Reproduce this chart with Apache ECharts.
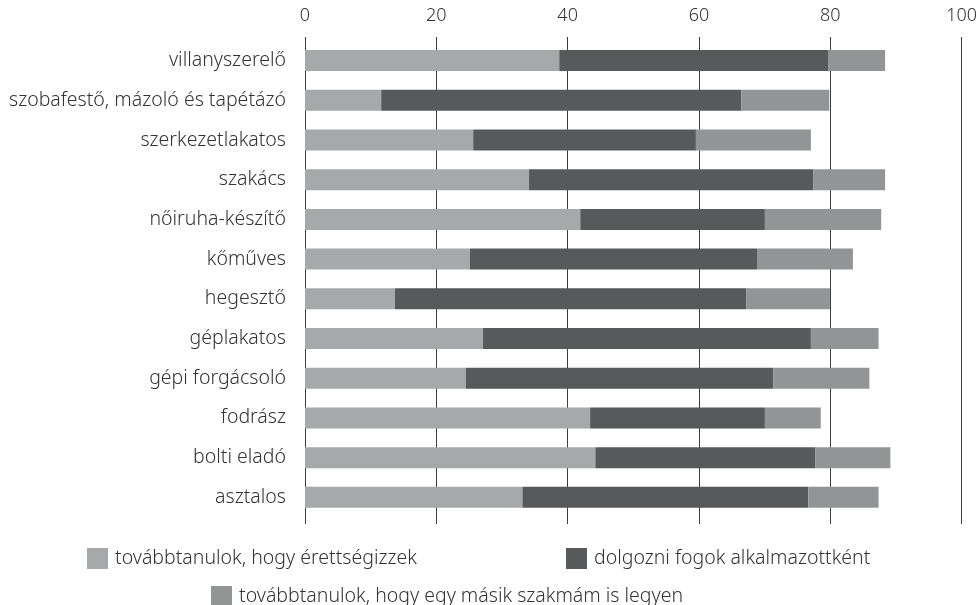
<!DOCTYPE html>
<html>
<head>
<meta charset="utf-8">
<script src="https://cdn.jsdelivr.net/npm/echarts@6/dist/echarts.min.js"></script>
<style>
html,body{margin:0;padding:0;background:#fff;}
#chart{width:980px;height:605px;}
</style>
</head>
<body>
<div id="chart"></div>
<script>
const categories = ["villanyszerelő", "szobafestő, mázoló és tapétázó", "szerkezetlakatos", "szakács", "nőiruha-készítő", "kőműves", "hegesztő", "géplakatos", "gépi forgácsoló", "fodrász", "bolti eladó", "asztalos"];
const seriesNames = ["továbbtanulok, hogy érettségizzek", "dolgozni fogok alkalmazottként", "továbbtanulok, hogy egy másik szakmám is legyen"];
const erettsegi = [38.7, 11.6, 25.6, 34.1, 41.9, 25.1, 13.7, 27.1, 24.5, 43.4, 44.2, 33.1];
const alkalmazott = [41.0, 54.8, 33.9, 43.3, 28.1, 43.7, 53.5, 49.9, 46.8, 26.6, 33.5, 43.5];
const masikSzakma = [8.6, 13.4, 17.5, 10.9, 17.7, 14.6, 12.7, 10.3, 14.6, 8.5, 11.4, 10.7];
const xTicks = [0, 20, 40, 60, 80, 100];

const FONT = "Noto Sans";
const colors = ["#a7a8aa", "#58595b", "#939496"];
const chart = echarts.init(document.getElementById('chart'), null, {renderer: 'canvas'});
const legendCommon = {
  itemWidth: 21, itemHeight: 21, icon: 'rect',
  textStyle: {fontFamily: FONT, fontSize: 19.5, fontWeight: 300, color: '#333', padding: [0, 0, 0, 2]},
  selectedMode: false
};
chart.setOption({
  animation: false,
  backgroundColor: '#fff',
  color: colors,
  grid: [
    {left: 305, right: 18, top: 40.7, height: 476.5},
    {left: 305, right: 18, top: 37, height: 487}
  ],
  xAxis: [
    {gridIndex: 0, type: 'value', min: 0, max: 100, show: false},
    {gridIndex: 1, type: 'value', position: 'top', min: xTicks[0], max: xTicks[xTicks.length - 1], interval: 20,
     axisLine: {show: false}, axisTick: {show: false},
     splitLine: {show: true, lineStyle: {color: '#3d3d3d', width: 1}},
     axisLabel: {margin: 12, fontFamily: FONT, fontSize: 18, fontWeight: 300, color: '#333'}}
  ],
  yAxis: [
    {gridIndex: 0, type: 'category', data: categories, inverse: true,
     axisLine: {show: false}, axisTick: {show: false}, splitLine: {show: false},
     axisLabel: {margin: 19, fontFamily: FONT, fontSize: 19.5, fontWeight: 300, color: '#333'}},
    {gridIndex: 1, type: 'category', data: categories, show: false}
  ],
  legend: [
    Object.assign({left: 82, top: 543, data: [seriesNames[0]]}, legendCommon),
    Object.assign({left: 561, top: 543, data: [seriesNames[1]]}, legendCommon),
    Object.assign({left: 206, top: 581, data: [seriesNames[2]]}, legendCommon)
  ],
  series: [
    {name: seriesNames[0], type: 'bar', stack: 'a', data: erettsegi, barWidth: 21, xAxisIndex: 0, yAxisIndex: 0},
    {name: seriesNames[1], type: 'bar', stack: 'a', data: alkalmazott, barWidth: 21, xAxisIndex: 0, yAxisIndex: 0},
    {name: seriesNames[2], type: 'bar', stack: 'a', data: masikSzakma, barWidth: 21, xAxisIndex: 0, yAxisIndex: 0}
  ]
});
</script>
</body>
</html>
